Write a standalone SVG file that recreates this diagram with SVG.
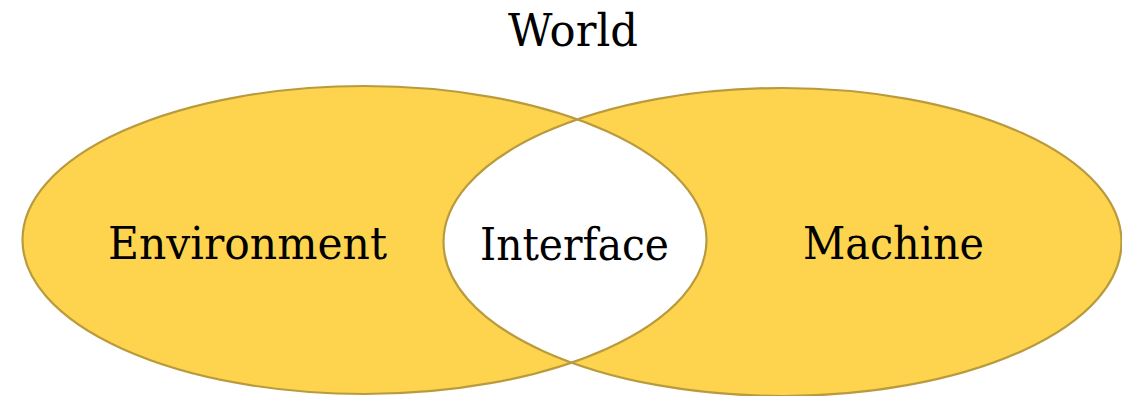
<svg xmlns="http://www.w3.org/2000/svg" width="1122" height="396" viewBox="0 0 1122 396">
  <style>
    .set { fill: #FED44F; }
    .rim { fill: none; stroke: #B99B3D; stroke-width: 2.2; }
    .label { font-family: "DejaVu Serif", "Liberation Serif", serif; font-size: 44px; fill: #000; text-anchor: middle; }
  </style>
  <defs>
    <clipPath id="clip-machine">
      <ellipse cx="782.5" cy="242" rx="339" ry="154"/>
    </clipPath>
  </defs>
  <rect width="1122" height="396" fill="#FFFFFF"/>

  <g id="world">
    <text class="label" x="573" y="46" textLength="130" lengthAdjust="spacingAndGlyphs">World</text>
  </g>

  <g id="environment">
    <ellipse class="set" cx="364.5" cy="240" rx="342" ry="154"/>
  </g>
  <g id="machine">
    <ellipse class="set" cx="782.5" cy="242" rx="339" ry="154"/>
  </g>
  <g id="interface">
    <ellipse fill="#FFFFFF" cx="364.5" cy="240" rx="342" ry="154" clip-path="url(#clip-machine)"/>
  </g>

  <g id="outlines">
    <ellipse class="rim" cx="364.5" cy="240" rx="342" ry="154"/>
    <ellipse class="rim" cx="782.5" cy="242" rx="339" ry="154"/>
  </g>

  <g id="labels">
    <text class="label" x="247.5" y="259" textLength="279" lengthAdjust="spacingAndGlyphs">Environment</text>
    <text class="label" x="574.5" y="260" textLength="189" lengthAdjust="spacingAndGlyphs">Interface</text>
    <text class="label" x="893.5" y="259" textLength="181" lengthAdjust="spacingAndGlyphs">Machine</text>
  </g>
</svg>
